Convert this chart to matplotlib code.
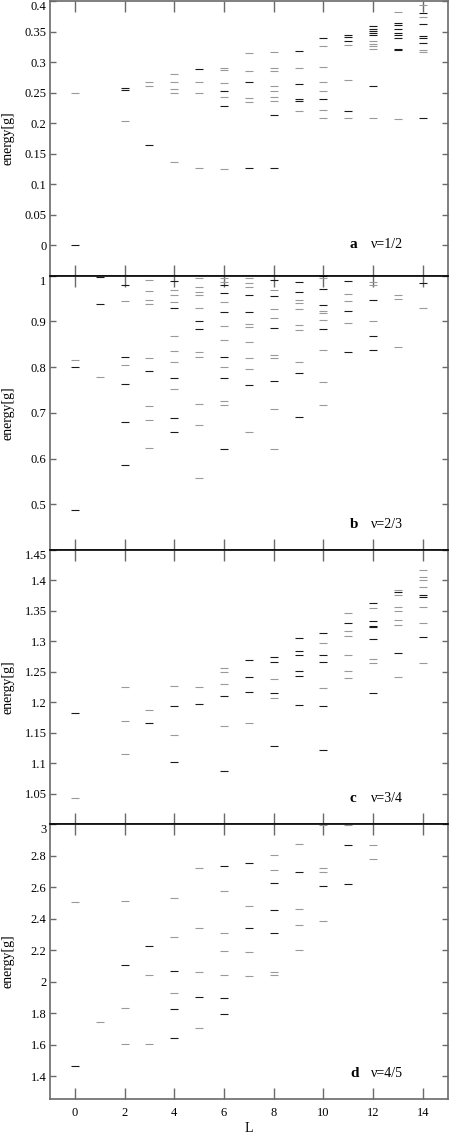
import numpy as np
import matplotlib
matplotlib.use("Agg")
import matplotlib.pyplot as plt

# energy levels, black and grey marks per panel
a_L_black = [0, 2, 2, 3, 5, 6, 6, 7, 7, 8, 8, 9, 9, 9, 9, 10, 10, 11, 11, 11, 11,
             12, 12, 12, 12, 12, 12, 13, 13, 13, 13, 13, 13, 13, 13,
             14, 14, 14, 14, 14, 14]
a_E_black = [0.0, 0.258, 0.254, 0.164, 0.288, 0.253, 0.228, 0.268, 0.126, 0.213, 0.126,
             0.319, 0.264, 0.239, 0.236, 0.340, 0.239, 0.345, 0.342, 0.334, 0.220,
             0.360, 0.354, 0.351, 0.347, 0.344, 0.261, 0.364, 0.361, 0.354, 0.348,
             0.344, 0.340, 0.322, 0.320, 0.381, 0.362, 0.343, 0.340, 0.331, 0.208]
a_L_gray = [0, 2, 3, 3, 4, 4, 4, 4, 4, 5, 5, 5, 6, 6, 6, 6, 6, 7, 7, 7, 7,
            8, 8, 8, 8, 8, 8, 8, 9, 9, 10, 10, 10, 10, 10, 10, 11, 11, 11,
            12, 12, 12, 12, 12, 13, 13, 14, 14, 14, 14]
a_E_gray = [0.25, 0.204, 0.267, 0.261, 0.280, 0.267, 0.256, 0.250, 0.136, 0.268, 0.249, 0.126,
            0.291, 0.287, 0.266, 0.243, 0.125, 0.315, 0.285, 0.241, 0.235,
            0.317, 0.291, 0.285, 0.261, 0.252, 0.242, 0.236, 0.290, 0.220,
            0.326, 0.292, 0.267, 0.252, 0.221, 0.208, 0.328, 0.270, 0.209,
            0.334, 0.330, 0.327, 0.321, 0.208, 0.382, 0.207, 0.394, 0.374, 0.320, 0.317]

b_L_black = [0, 0, 1, 1, 2, 2, 2, 2, 2, 3, 4, 4, 4, 4, 4, 5, 5,
             6, 6, 6, 6, 6, 6, 7, 7, 7, 8, 8, 8, 8, 9, 9, 9, 9,
             10, 10, 10, 10, 11, 11, 11, 12, 12, 12, 14]
b_E_black = [0.799, 0.487, 0.997, 0.938, 0.979, 0.821, 0.763, 0.680, 0.586, 0.791,
             0.988, 0.928, 0.775, 0.688, 0.659, 0.901, 0.883,
             0.979, 0.962, 0.921, 0.821, 0.776, 0.620, 0.958, 0.921, 0.760,
             0.991, 0.955, 0.886, 0.770, 0.986, 0.963, 0.788, 0.690,
             0.998, 0.970, 0.936, 0.883, 0.989, 0.923, 0.833, 0.946, 0.867, 0.837, 0.983]
b_L_gray = [0, 1, 2, 2, 3, 3, 3, 3, 3, 3, 3, 3, 4, 4, 4, 4, 4, 4, 4,
            5, 5, 5, 5, 5, 5, 5, 5, 5, 5, 6, 6, 6, 6, 6, 6, 6, 6,
            7, 7, 7, 7, 7, 7, 7, 7, 7, 8, 8, 8, 8, 8, 8, 8,
            9, 9, 9, 9, 9, 9, 10, 10, 10, 10, 10, 10, 10,
            11, 11, 11, 12, 12, 12, 13, 13, 13, 14]
b_E_gray = [0.816, 0.778, 0.944, 0.805, 0.991, 0.967, 0.947, 0.938, 0.819, 0.715, 0.684, 0.622,
            0.969, 0.957, 0.942, 0.868, 0.835, 0.810, 0.751,
            0.995, 0.976, 0.964, 0.957, 0.929, 0.833, 0.821, 0.719, 0.673, 0.558,
            0.995, 0.985, 0.943, 0.890, 0.860, 0.799, 0.726, 0.716,
            0.995, 0.983, 0.975, 0.895, 0.887, 0.854, 0.819, 0.796, 0.659,
            0.969, 0.927, 0.908, 0.827, 0.819, 0.709, 0.620,
            0.947, 0.939, 0.926, 0.893, 0.881, 0.810,
            0.994, 0.923, 0.919, 0.902, 0.837, 0.767, 0.716,
            0.960, 0.944, 0.897, 0.986, 0.980, 0.901, 0.958, 0.949, 0.844, 0.928]

c_L_black = [0, 3, 4, 4, 5, 6, 6, 7, 7, 7, 8, 8, 8, 8, 9, 9, 9, 9, 9, 9,
             10, 10, 10, 10, 10, 11, 12, 12, 12, 12, 12, 12, 13, 13, 14, 14, 14]
c_E_black = [1.182, 1.167, 1.194, 1.103, 1.198, 1.210, 1.088, 1.270, 1.242, 1.217,
             1.275, 1.266, 1.215, 1.128, 1.306, 1.284, 1.277, 1.251, 1.244, 1.195,
             1.314, 1.278, 1.266, 1.194, 1.122, 1.331, 1.363, 1.334, 1.326, 1.324, 1.304, 1.216,
             1.381, 1.281, 1.377, 1.373, 1.308]
c_L_gray = [0, 2, 2, 2, 3, 4, 4, 5, 6, 6, 6, 6, 7, 8, 8, 10, 10,
            11, 11, 11, 11, 11, 11, 12, 12, 12, 13, 13, 13, 13, 13, 13, 13,
            14, 14, 14, 14, 14, 14, 14]
c_E_gray = [1.043, 1.225, 1.170, 1.115, 1.187, 1.227, 1.146, 1.225, 1.256, 1.250, 1.230, 1.162,
            1.167, 1.239, 1.207, 1.298, 1.223,
            1.346, 1.317, 1.309, 1.278, 1.251, 1.240, 1.355, 1.271, 1.264,
            1.385, 1.377, 1.357, 1.350, 1.335, 1.327, 1.242,
            1.418, 1.405, 1.401, 1.390, 1.357, 1.330, 1.264]

d_L_black = [0, 2, 3, 4, 4, 4, 5, 6, 6, 6, 7, 7, 8, 8, 8, 9, 10, 11, 11]
d_E_black = [1.464, 2.105, 2.230, 2.066, 1.825, 1.645, 1.900, 2.734, 1.894, 1.796,
             2.755, 2.342, 2.630, 2.454, 2.307, 2.697, 2.606, 2.871, 2.624]
d_L_gray = [0, 1, 2, 2, 2, 3, 3, 4, 4, 4, 5, 5, 5, 5, 6, 6, 6, 6,
            7, 7, 7, 8, 8, 8, 8, 9, 9, 9, 9, 10, 10, 10, 10, 11, 12, 12]
d_E_gray = [2.506, 1.742, 2.514, 1.830, 1.601, 2.041, 1.601, 2.531, 2.284, 1.929,
            2.724, 2.340, 2.062, 1.703, 2.574, 2.309, 2.195, 2.041,
            2.481, 2.186, 2.037, 2.807, 2.713, 2.060, 2.045, 2.873, 2.464, 2.359, 2.201,
            2.998, 2.720, 2.695, 2.388, 2.998, 2.867, 2.782]

panel_tags = ["a", "b", "c", "d"]
panel_nu = ["\u03bd=1/2", "\u03bd=2/3", "\u03bd=3/4", "\u03bd=4/5"]
ylims = [(-0.05, 0.40), (0.40, 1.0), (1.0, 1.45), (1.255, 3.0)]
yticks = [[0, 0.05, 0.1, 0.15, 0.2, 0.25, 0.3, 0.35, 0.4],
          [0.5, 0.6, 0.7, 0.8, 0.9, 1],
          [1.05, 1.1, 1.15, 1.2, 1.25, 1.3, 1.35, 1.4, 1.45],
          [1.4, 1.6, 1.8, 2, 2.2, 2.4, 2.6, 2.8, 3]]
xticks = [0, 2, 4, 6, 8, 10, 12, 14]

data = [(a_L_black, a_E_black, a_L_gray, a_E_gray),
        (b_L_black, b_E_black, b_L_gray, b_E_gray),
        (c_L_black, c_E_black, c_L_gray, c_E_gray),
        (d_L_black, d_E_black, d_L_gray, d_E_gray)]

plt.rcParams['font.family'] = ['Liberation Serif', 'DejaVu Serif']

fig = plt.figure(figsize=(4.5, 11.34), dpi=100)
gs = fig.add_gridspec(4, 1, left=0.111, right=0.995, top=0.999, bottom=0.031, hspace=0)

frame = '#6a6a6a'
for i in range(4):
    ax = fig.add_subplot(gs[i])
    Lb, Eb, Lg, Eg = data[i]
    ax.plot(Lg, Eg, ls='none', marker='_', ms=5.5, mew=0.8, color='#9a9a9a')
    ax.plot(Lb, Eb, ls='none', marker='_', ms=5.5, mew=0.8, color='#1a1a1a')

    ax.set_xlim(-1, 15)
    ax.set_ylim(*ylims[i])
    ax.set_xticks(xticks)
    ax.set_yticks(yticks[i])
    ax.set_yticklabels(['%g' % v for v in yticks[i]])
    ax.tick_params(axis='x', direction='in', length=8, width=1, color=frame,
                   top=True, bottom=True, labelsize=9, pad=6)
    ax.tick_params(axis='y', direction='in', length=4.5, width=1, color=frame,
                   left=True, right=True, labelsize=9, pad=2.5)
    ax.yaxis.get_major_ticks()[-1].label1.set_va('top')
    for s in ax.spines.values():
        s.set_color(frame)
        s.set_linewidth(1.2)
    if i > 0:
        ax.spines['top'].set_color('black')
    if i < 3:
        ax.tick_params(axis='x', labelbottom=False)
    else:
        ax.set_xlabel('L', fontsize=10, labelpad=2)

    ax.set_ylabel('energy[g]', fontsize=10)
    ax.yaxis.set_label_coords(-0.09, 0.5)

    ty = 0.10 if i == 0 else 0.08
    ax.text(0.754, ty, panel_tags[i], transform=ax.transAxes, fontsize=11,
            fontweight='bold', va='baseline')
    ax.text(0.806, ty, panel_nu[i], transform=ax.transAxes, fontsize=10,
            va='baseline')

fig.savefig('out.png', dpi=100)
